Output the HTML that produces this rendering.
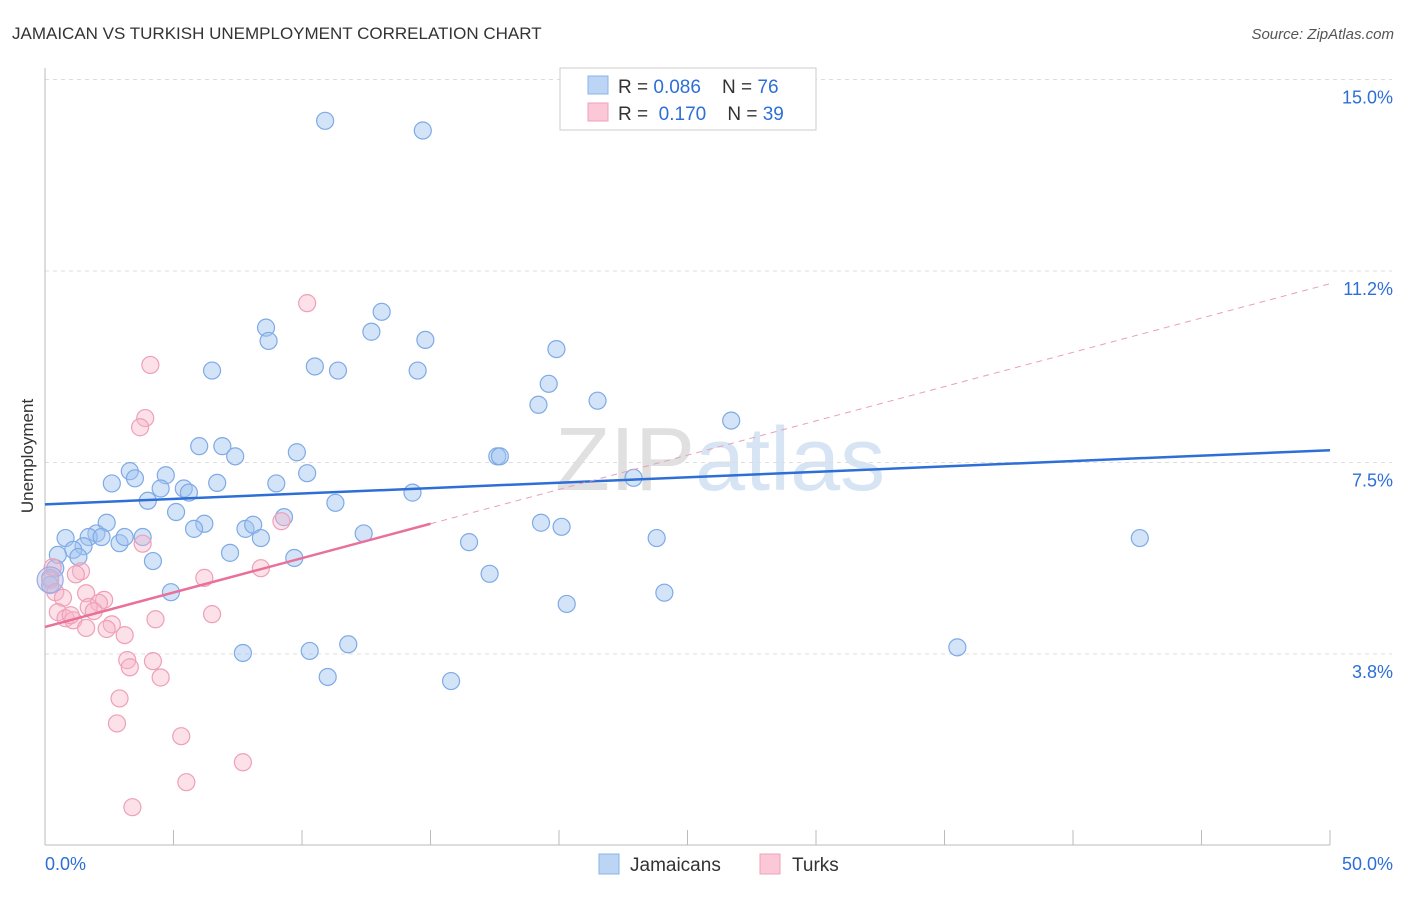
<!DOCTYPE html>
<html><head><meta charset="utf-8"><style>
body{margin:0;background:#fff;font-family:"Liberation Sans",sans-serif;}
svg text{font-family:"Liberation Sans",sans-serif;}
</style></head><body>
<svg id="c" width="1406" height="892" xmlns="http://www.w3.org/2000/svg">
<text x="12" y="39" font-size="17" fill="#333">JAMAICAN VS TURKISH UNEMPLOYMENT CORRELATION CHART</text>
<text x="1394" y="39" font-size="15" fill="#555" font-style="italic" text-anchor="end">Source: ZipAtlas.com</text>
<text x="33" y="456" font-size="17" fill="#333" text-anchor="middle" transform="rotate(-90 33 456)">Unemployment</text>
<text x="555" y="490" font-size="90" fill="#ccc" font-family="Liberation Serif" opacity="0.6">ZIP<tspan fill="#bcd3ee" font-family="Liberation Sans">atlas</tspan></text>
<g id="grid"></g><g id="marks"></g>
<g>
<rect x="560" y="68" width="256" height="62" fill="#fff" stroke="#ccc"/>
<rect x="588" y="76" width="20" height="18" fill="#bcd5f5" stroke="#8ab4e8"/>
<rect x="588" y="103" width="20" height="18" fill="#fcc8d8" stroke="#f0a0b8"/>
<text x="618" y="93" font-size="19" fill="#333" xml:space="preserve">R = <tspan fill="#2d6fd6">0.086</tspan>    N = <tspan fill="#2d6fd6">76</tspan></text>
<text x="618" y="120" font-size="19" fill="#333" xml:space="preserve">R =  <tspan fill="#2d6fd6">0.170</tspan>    N = <tspan fill="#2d6fd6">39</tspan></text>
</g>
<g>
<rect x="599" y="854" width="20" height="20" fill="#bcd5f5" stroke="#8ab4e8"/>
<text x="630" y="871" font-size="19" fill="#333">Jamaicans</text>
<rect x="760" y="854" width="20" height="20" fill="#fcc8d8" stroke="#f0a0b8"/>
<text x="792" y="871" font-size="19" fill="#333">Turks</text>
</g>
</svg>
<script>
const yTicks=[3.75,7.5,11.25,15];
const yTickLabels=["3.8%","7.5%","11.2%","15.0%"];
const xTickLabels=["0.0%","50.0%"];
const blueX=[10.9,14.7,13.1,8.6,8.7,12.7,14.8,19.9,6.5,10.5,11.4,14.5,19.6,19.2,21.5,26.7,6.0,6.9,9.8,7.4,17.6,17.7,3.3,4.7,3.5,10.2,2.6,4.5,5.4,6.7,9.0,5.6,4.0,11.3,14.3,22.9,5.1,2.4,6.2,5.8,9.3,7.8,8.1,2.0,1.7,2.2,3.8,0.8,2.9,3.1,8.4,19.3,20.1,12.4,16.5,23.8,42.6,1.5,1.1,0.5,1.3,4.2,7.2,9.7,17.3,0.4,0.2,0.2,4.9,24.1,20.3,11.8,7.7,10.3,35.5,11.0,15.8];
const blueY=[14.19,14.0,10.45,10.14,9.88,10.06,9.9,9.72,9.3,9.38,9.3,9.3,9.04,8.63,8.71,8.32,7.82,7.82,7.7,7.62,7.62,7.62,7.33,7.25,7.19,7.29,7.09,6.99,6.99,7.1,7.09,6.91,6.75,6.71,6.91,7.2,6.53,6.32,6.3,6.2,6.43,6.2,6.28,6.11,6.04,6.04,6.04,6.02,5.92,6.04,6.02,6.32,6.24,6.11,5.94,6.02,6.02,5.86,5.79,5.69,5.65,5.57,5.73,5.63,5.32,5.43,5.24,5.1,4.96,4.95,4.73,3.94,3.77,3.81,3.88,3.3,3.22];
const pinkX=[10.2,4.1,3.9,3.7,9.2,3.8,8.4,1.4,1.2,6.2,0.3,0.2,0.4,1.6,2.3,2.1,0.7,1.7,1.9,0.5,0.8,1.1,1.0,6.5,4.3,2.6,1.6,2.4,3.1,3.2,4.2,3.3,4.5,2.9,2.8,5.3,7.7,5.5,3.4];
const pinkY=[10.62,9.41,8.37,8.19,6.35,5.91,5.43,5.37,5.31,5.24,5.45,5.2,4.96,4.94,4.81,4.75,4.85,4.67,4.59,4.57,4.45,4.41,4.51,4.53,4.43,4.33,4.26,4.24,4.12,3.63,3.61,3.49,3.29,2.88,2.39,2.14,1.63,1.24,0.75];
const big={x:0.2,y:5.2};
const blueTrend=[[0,6.68],[50,7.74]];
const pinkTrend=[[0,4.28],[15,6.3]];
const pinkDash=[[15,6.3],[50,11.0]];
const X=v=>45+v*25.7, Y=v=>845.5-v*51.07;
const NS="http://www.w3.org/2000/svg";
const grid=document.getElementById('grid'),marks=document.getElementById('marks');
function mk(tag,attrs,parent){const e=document.createElementNS(NS,tag);for(const k in attrs)e.setAttribute(k,attrs[k]);parent.appendChild(e);return e;}
yTicks.forEach((t,i)=>{
 const l=mk('line',{x1:45,x2:1392,y1:Y(t),y2:Y(t),stroke:'#ddd','stroke-dasharray':'4,4'},grid);
 
 
 const tx=mk('text',{x:1393,y:Y(t)+24,'font-size':18,fill:'#2d6fd6','text-anchor':'end'},grid);
 tx.textContent=yTickLabels[i];
 
 
});
const ax=mk('line',{x1:45,x2:1330,y1:845,y2:845,stroke:'#bbb'},grid);


const ay=mk('line',{x1:45,x2:45,y1:68,y2:845,stroke:'#bbb'},grid);


for(let i=0;i<=10;i++){const t=mk('line',{x1:X(i*5),x2:X(i*5),y1:830,y2:845,stroke:'#bbb'},grid);
 
 }
[[0,'start'],[50,'end']].forEach((p,i)=>{const t=mk('text',{x:i?1393:45,y:870,'font-size':18,fill:'#2d6fd6','text-anchor':p[1]},grid);t.textContent=xTickLabels[i];
 
 });
function dot(x,y,r,fill,stroke,name){const c=mk('circle',{cx:X(x),cy:Y(y),r:r,fill:fill,stroke:stroke,'stroke-width':1.2},marks);
 
 }
blueX.forEach((v,i)=>dot(v,blueY[i],8.5,'rgba(160,196,240,0.45)','#7eaae6','jamaican-point'));
pinkX.forEach((v,i)=>dot(v,pinkY[i],8.5,'rgba(248,180,200,0.4)','#ef9fb8','turk-point'));
dot(big.x,big.y,13,'rgba(180,190,230,0.45)','#a0a8e0','large-point');
function line(p,col,w,dash,name){const l=mk('line',{x1:X(p[0][0]),y1:Y(p[0][1]),x2:X(p[1][0]),y2:Y(p[1][1]),stroke:col,'stroke-width':w},marks);
 if(dash)l.setAttribute('stroke-dasharray',dash);
 
 }
line(blueTrend,'#2d6fd6',2.5,null,'jamaican-trend');
line(pinkTrend,'#e8709a',2.5,null,'turk-trend');
line(pinkDash,'#e8a0b8',1,'6,5','turk-trend-extension');
</script>
</body></html>
